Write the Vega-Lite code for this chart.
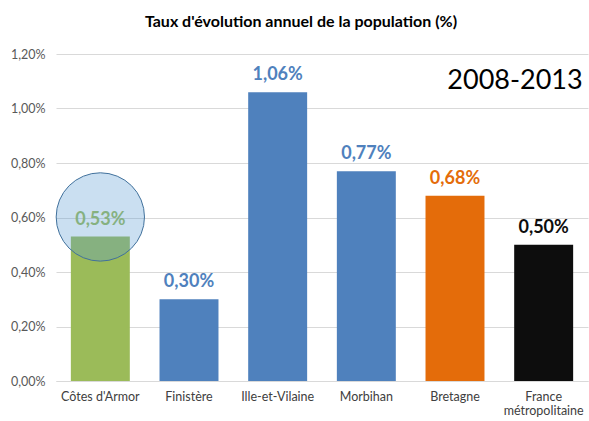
{
  "$schema": "https://vega.github.io/schema/vega-lite/v6.json",
  "width": 532,
  "height": 327,
  "autosize": {"type": "none"},
  "padding": {"left": 56, "top": 54, "right": 1, "bottom": 40},
  "background": "white",
  "config": {
    "view": {"stroke": null},
    "font": "Lato"
  },
  "title": {
    "text": "Taux d'évolution annuel de la population (%)",
    "fontSize": 16,
    "fontWeight": "bold",
    "color": "#000000",
    "offset": 18,
    "dx": -21,
    "anchor": "middle"
  },
  "datasets": {
    "bars": [
      {"zone": "Côtes d'Armor", "taux": 0.53, "label": "0,53%", "groupe": "dep22"},
      {"zone": "Finistère", "taux": 0.30, "label": "0,30%", "groupe": "dep"},
      {"zone": "Ille-et-Vilaine", "taux": 1.06, "label": "1,06%", "groupe": "dep"},
      {"zone": "Morbihan", "taux": 0.77, "label": "0,77%", "groupe": "dep"},
      {"zone": "Bretagne", "taux": 0.68, "label": "0,68%", "groupe": "region"},
      {"zone": "France métropolitaine", "taux": 0.50, "label": "0,50%", "groupe": "france"}
    ],
    "circle": [{"zone": "Côtes d'Armor", "taux": 0.602}],
    "period": [{"zone": "France métropolitaine", "taux": 1.10, "texte": "2008-2013"}]
  },
  "layer": [
    {
      "data": {"name": "bars"},
      "mark": {"type": "bar"},
      "encoding": {
        "x": {
          "field": "zone", "type": "nominal", "sort": null,
          "scale": {"paddingInner": 0.335, "paddingOuter": 0.1675},
          "axis": {
            "title": null, "labelAngle": 0, "ticks": false,
            "domainColor": "#D9D9D9", "labelColor": "#404040",
            "labelFontSize": 12.5, "labelPadding": 9,
            "labelExpr": "datum.label == 'France métropolitaine' ? ['France', 'métropolitaine'] : datum.label"
          }
        },
        "y": {
          "field": "taux", "type": "quantitative",
          "scale": {"domain": [0, 1.2]},
          "axis": {
            "title": null, "domain": false, "ticks": false,
            "values": [0, 0.2, 0.4, 0.6, 0.8, 1.0, 1.2],
            "gridColor": "#D9D9D9", "labelColor": "#595959",
            "labelFontSize": 12.5, "labelPadding": 11,
            "labelExpr": "replace(format(datum.value, '.2f'), '.', ',') + '%'"
          }
        },
        "color": {
          "field": "groupe", "type": "nominal", "legend": null,
          "scale": {"domain": ["dep22", "dep", "region", "france"], "range": ["#9BBB59", "#4F81BD", "#E46C0A", "#0D0D0D"]}
        }
      }
    },
    {
      "data": {"name": "bars"},
      "mark": {"type": "text", "fontSize": 18, "fontWeight": "bold", "baseline": "alphabetic", "dy": -12},
      "encoding": {
        "x": {"field": "zone", "type": "nominal", "sort": null},
        "y": {"field": "taux", "type": "quantitative"},
        "text": {"field": "label"},
        "color": {
          "field": "groupe", "type": "nominal", "legend": null,
          "scale": {"domain": ["dep22", "dep", "region", "france"], "range": ["#9BBB59", "#4F81BD", "#E46C0A", "#0D0D0D"]}
        }
      }
    },
    {
      "data": {"name": "circle"},
      "mark": {"type": "point", "shape": "circle", "filled": true, "size": 7800, "fill": "#5B9BD5", "fillOpacity": 0.32, "stroke": "#41719C", "strokeWidth": 1, "strokeOpacity": 1},
      "encoding": {
        "x": {"field": "zone", "type": "nominal", "sort": null},
        "y": {"field": "taux", "type": "quantitative"}
      }
    },
    {
      "data": {"name": "period"},
      "mark": {"type": "text", "fontSize": 27, "color": "#000000", "align": "right", "baseline": "middle", "dx": 39},
      "encoding": {
        "x": {"field": "zone", "type": "nominal", "sort": null},
        "y": {"field": "taux", "type": "quantitative"},
        "text": {"field": "texte"}
      }
    }
  ]
}
